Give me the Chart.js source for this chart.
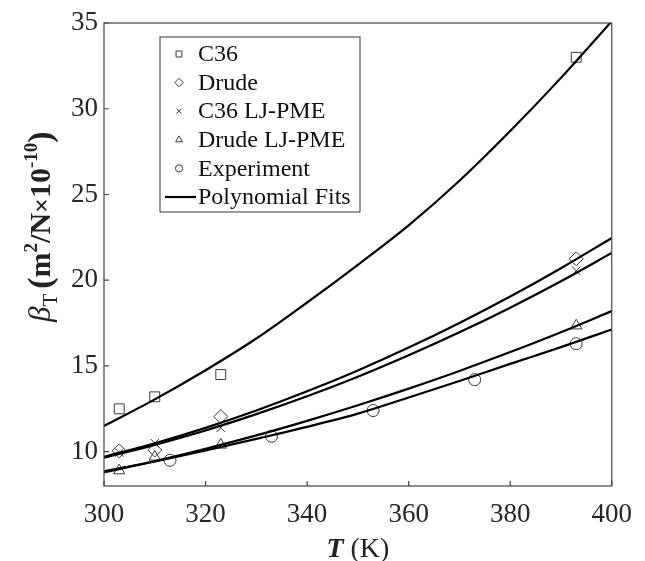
<!DOCTYPE html>
<html>
<head>
<meta charset="utf-8">
<script src="https://cdn.jsdelivr.net/npm/chart.js@4"></script>
<style>
  html, body { margin: 0; padding: 0; background: #fff; }
  #wrap { width: 645px; height: 561px; }
</style>
</head>
<body>
<div id="wrap"><canvas id="chart" width="645" height="561"></canvas></div>
<script>
// measured points
const tempSim = [303, 310, 323, 393];
const betaC36 = [12.5, 13.2, 14.5, 33.0];
const betaDrude = [10.05, 10.1, 12.05, 21.25];
const betaC36Pme = [9.95, 10.5, 11.4, 20.55];
const betaDrudePme = [8.9, 9.7, 10.4, 17.35];
const tempExp = [313, 333, 353, 373, 393];
const betaExp = [9.5, 10.9, 12.4, 14.2, 16.3];

// polynomial fit curves, every 10 K
const fitTemps = [300, 310, 320, 330, 340, 350, 360, 370, 380, 390, 400];
const fitC36 = [11.5, 13.05, 14.75, 16.6, 18.7, 20.9, 23.2, 25.8, 28.7, 31.8, 35.1];
const fitDrude = [9.7, 10.49, 11.39, 12.4, 13.52, 14.74, 16.07, 17.51, 19.05, 20.7, 22.46];
const fitC36Pme = [9.65, 10.4, 11.24, 12.19, 13.23, 14.37, 15.62, 16.96, 18.4, 19.94, 21.59];
const fitDrudePme = [8.8, 9.45, 10.17, 10.95, 11.8, 12.71, 13.68, 14.71, 15.81, 16.97, 18.2];
const fitExp = [8.85, 9.43, 10.07, 10.75, 11.45, 12.22, 13.16, 14.12, 15.12, 16.1, 17.13];

const xTicks = [300, 320, 340, 360, 380, 400];
const yTicks = [10, 15, 20, 25, 30, 35];

const SERIF = "'Liberation Serif', 'Times New Roman', serif";
const MARK = '#3a3a3a';
const AXIS = '#444';

const pts = (xs, ys) => xs.map((x, i) => ({ x, y: ys[i] }));

function markerSet(label, xs, ys, style, radius) {
  return {
    type: 'scatter', label, data: pts(xs, ys), order: 2,
    pointStyle: style, pointRadius: radius, pointHoverRadius: radius,
    borderColor: MARK, backgroundColor: 'rgba(0,0,0,0)', borderWidth: 1,
  };
}

function fitSet(ys) {
  return {
    type: 'line', label: 'fit', data: pts(fitTemps, ys), order: 1,
    borderColor: '#000', borderWidth: 2.2, pointRadius: 0,
    cubicInterpolationMode: 'monotone', fill: false,
  };
}

const markerSets = [
  markerSet('C36', tempSim, betaC36, 'rect', 7),
  markerSet('Drude', tempSim, betaDrude, 'rectRot', 7),
  markerSet('C36 LJ-PME', tempSim, betaC36Pme, 'crossRot', 6),
  markerSet('Drude LJ-PME', tempSim, betaDrudePme, 'triangle', 6.5),
  markerSet('Experiment', tempExp, betaExp, 'circle', 6),
];

// box, inward ticks, legend and axis titles
const decor = {
  id: 'decor',
  afterDatasetsDraw(chart) {
    const { ctx, chartArea: a, scales } = chart;
    ctx.save();
    ctx.strokeStyle = AXIS;
    ctx.lineWidth = 1.2;
    ctx.strokeRect(a.left, a.top, a.right - a.left, a.bottom - a.top);
    ctx.beginPath();
    xTicks.forEach(v => {
      const x = scales.x.getPixelForValue(v);
      ctx.moveTo(x, a.bottom); ctx.lineTo(x, a.bottom - 5);
    });
    yTicks.forEach(v => {
      const y = scales.y.getPixelForValue(v);
      ctx.moveTo(a.left, y); ctx.lineTo(a.left + 5, y);
    });
    ctx.stroke();

    // legend
    const lx = 160, ly = 37, lw = 200, lh = 175, row = 28.6;
    ctx.fillStyle = '#fff';
    ctx.fillRect(lx, ly, lw, lh);
    ctx.strokeStyle = '#333';
    ctx.lineWidth = 1;
    ctx.strokeRect(lx, ly, lw, lh);
    ctx.font = '24px ' + SERIF;
    ctx.textBaseline = 'middle';
    ctx.textAlign = 'left';
    markerSets.forEach((ds, i) => {
      const y = ly + 17 + i * row;
      ctx.fillStyle = '#fff';
      ctx.strokeStyle = MARK;
      ctx.lineWidth = 1;
      Chart.helpers.drawPoint(ctx, {
        pointStyle: ds.pointStyle, radius: ds.pointRadius * 0.6, borderWidth: 1, rotation: 0,
      }, lx + 19, y);
      ctx.fillStyle = '#111';
      ctx.fillText(ds.label, lx + 38, y + 1);
    });
    const fy = ly + 17 + 5 * row;
    ctx.strokeStyle = '#000';
    ctx.lineWidth = 2.2;
    ctx.beginPath(); ctx.moveTo(lx + 5, fy); ctx.lineTo(lx + 36, fy); ctx.stroke();
    ctx.fillStyle = '#111';
    ctx.fillText('Polynomial Fits', lx + 38, fy + 1);

    // x title
    ctx.fillStyle = '#222';
    ctx.textBaseline = 'alphabetic';
    const cx = (a.left + a.right) / 2;
    ctx.font = 'italic bold 28px ' + SERIF;
    const tW = ctx.measureText('T').width;
    ctx.font = '28px ' + SERIF;
    const kW = ctx.measureText(' (K)').width;
    let x0 = cx - (tW + kW) / 2;
    ctx.font = 'italic bold 28px ' + SERIF;
    ctx.fillText('T', x0, 557);
    ctx.font = '28px ' + SERIF;
    ctx.fillText(' (K)', x0 + tW, 557);

    // y title, rotated
    ctx.translate(50, 322);
    ctx.rotate(-Math.PI / 2);
    const parts = [
      { t: 'β', f: 'italic 31px ' + SERIF, dy: 0 },
      { t: 'T', f: '21px ' + SERIF, dy: 7 },
      { t: ' ', f: '20px ' + SERIF, dy: 0 },
      { t: '(', f: 'bold 34px ' + SERIF, dy: 1 },
      { t: 'm', f: 'bold 30px ' + SERIF, dy: 0 },
      { t: '2', f: 'bold 19px ' + SERIF, dy: -13 },
      { t: '/N', f: 'bold 30px ' + SERIF, dy: 0 },
      { t: '×', f: 'bold 26px ' + SERIF, dy: 0 },
      { t: '10', f: 'bold 30px ' + SERIF, dy: 0 },
      { t: '-10', f: 'bold 19px ' + SERIF, dy: -13 },
      { t: ')', f: 'bold 34px ' + SERIF, dy: 1 },
    ];
    let px = 0;
    parts.forEach(p => {
      ctx.font = p.f;
      ctx.fillText(p.t, px, p.dy);
      px += ctx.measureText(p.t).width;
    });
    ctx.restore();
  },
};

new Chart(document.getElementById('chart'), {
  data: {
    datasets: [
      fitSet(fitC36), fitSet(fitDrude), fitSet(fitC36Pme), fitSet(fitDrudePme), fitSet(fitExp),
      ...markerSets,
    ],
  },
  options: {
    responsive: false,
    animation: false,
    layout: { padding: { left: 0, right: 23, top: 23, bottom: 0 } },
    plugins: { legend: { display: false }, tooltip: { enabled: false } },
    scales: {
      x: {
        type: 'linear', min: 300, max: 400,
        afterBuildTicks: s => { s.ticks = xTicks.map(value => ({ value })); },
        afterFit: s => { s.height = 75; },
        grid: { display: false, drawTicks: false },
        border: { display: false },
        ticks: { color: '#262626', padding: 13, font: { family: SERIF, size: 27 } },
      },
      y: {
        type: 'linear', min: 8, max: 35,
        afterBuildTicks: s => { s.ticks = yTicks.map(value => ({ value })); },
        afterFit: s => { s.width = 104; },
        grid: { display: false, drawTicks: false },
        border: { display: false },
        ticks: { color: '#262626', padding: 6, font: { family: SERIF, size: 27 } },
      },
    },
  },
  plugins: [decor],
});
</script>
</body>
</html>
